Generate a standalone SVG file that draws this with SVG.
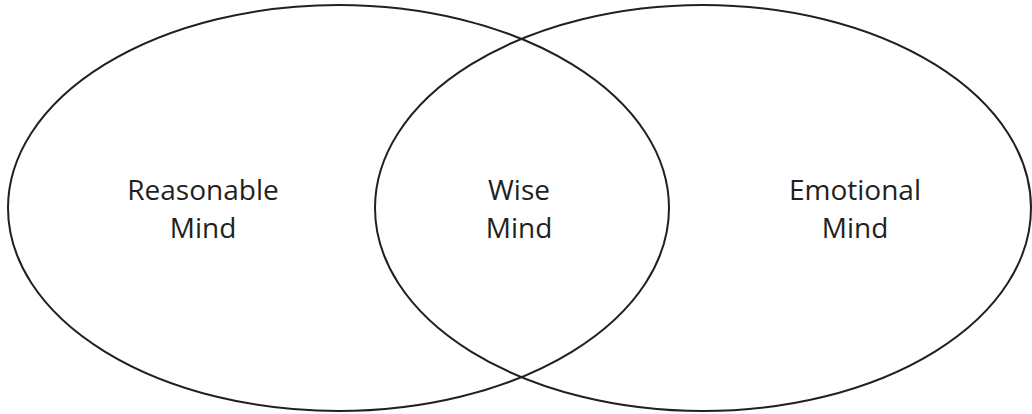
<svg xmlns="http://www.w3.org/2000/svg" width="1032" height="414" viewBox="0 0 1032 414">
<style>
.c{fill:none;stroke:#231f20;stroke-width:2}
.t{font-family:"Open Sans","DejaVu Sans",sans-serif;font-size:28px;fill:#231f20;text-anchor:middle}
</style>
<rect width="1032" height="414" fill="#fff"/>
<g id="reasonable">
<ellipse class="c" cx="338.5" cy="208" rx="330.5" ry="203"/>
<text class="t" x="203" y="200">Reasonable</text>
<text class="t" x="203" y="238">Mind</text>
</g>
<g id="emotional">
<ellipse class="c" cx="703" cy="208" rx="328" ry="203"/>
<text class="t" x="855" y="200">Emotional</text>
<text class="t" x="855" y="238">Mind</text>
</g>
<g id="wise">
<text class="t" x="519" y="200">Wise</text>
<text class="t" x="519" y="238">Mind</text>
</g>
<g id="connectors"></g>
</svg>
